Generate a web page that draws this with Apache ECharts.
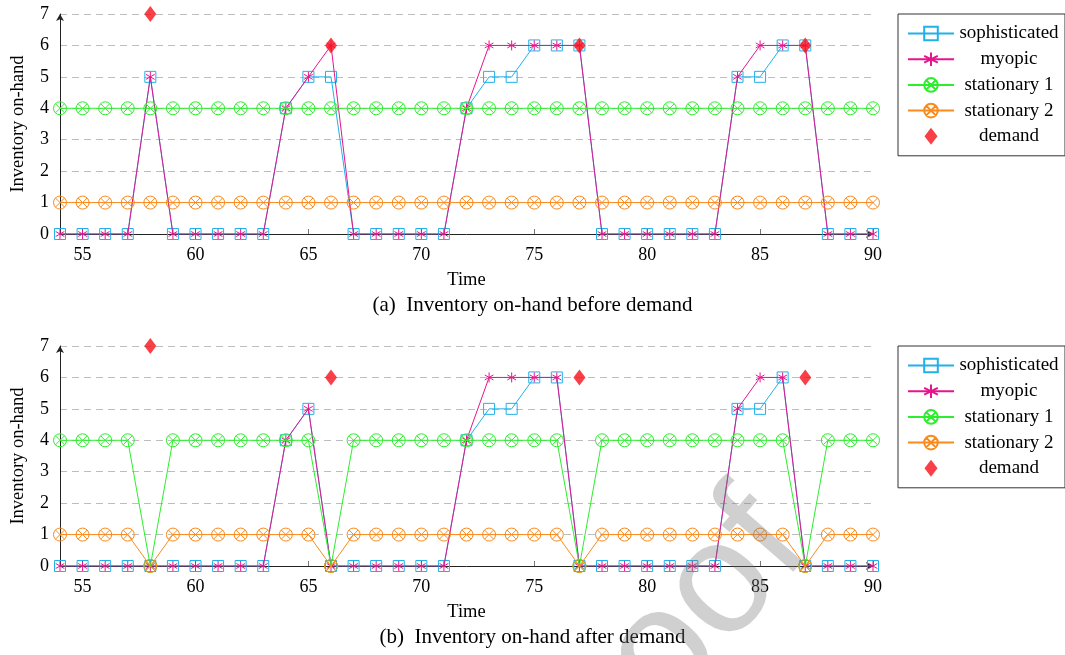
<!DOCTYPE html>
<html><head><meta charset="utf-8">
<script src="https://cdn.jsdelivr.net/npm/echarts@6/dist/echarts.min.js"></script>
<style>html,body{margin:0;padding:0;background:#fff}#c{width:1065px;height:655px}</style>
</head><body><div id="c"></div>
<script>
// ---- data ----
const times = [54,55,56,57,58,59,60,61,62,63,64,65,66,67,68,69,70,71,72,73,74,75,76,77,78,79,80,81,82,83,84,85,86,87,88,89,90];
const xTickValues = [55,60,65,70,75,80,85,90];
const yTickValues = [0,1,2,3,4,5,6,7];
const seriesNames = ['sophisticated','myopic','stationary 1','stationary 2','demand'];

// (a) before demand
const beforeSoph   = [0,0,0,0,5,0,0,0,0,0,4,5,5,0,0,0,0,0,4,5,5,6,6,6,0,0,0,0,0,0,5,5,6,6,0,0,0];
const beforeMyopic = [0,0,0,0,5,0,0,0,0,0,4,5,6,0,0,0,0,0,4,6,6,6,6,6,0,0,0,0,0,0,5,6,6,6,0,0,0];
const beforeStat1  = [4,4,4,4,4,4,4,4,4,4,4,4,4,4,4,4,4,4,4,4,4,4,4,4,4,4,4,4,4,4,4,4,4,4,4,4,4];
const beforeStat2  = [1,1,1,1,1,1,1,1,1,1,1,1,1,1,1,1,1,1,1,1,1,1,1,1,1,1,1,1,1,1,1,1,1,1,1,1,1];
// (b) after demand
const afterSoph    = [0,0,0,0,0,0,0,0,0,0,4,5,0,0,0,0,0,0,4,5,5,6,6,0,0,0,0,0,0,0,5,5,6,0,0,0,0];
const afterMyopic  = [0,0,0,0,0,0,0,0,0,0,4,5,0,0,0,0,0,0,4,6,6,6,6,0,0,0,0,0,0,0,5,6,6,0,0,0,0];
const afterStat1   = [4,4,4,4,0,4,4,4,4,4,4,4,0,4,4,4,4,4,4,4,4,4,4,0,4,4,4,4,4,4,4,4,4,0,4,4,4];
const afterStat2   = [1,1,1,1,0,1,1,1,1,1,1,1,0,1,1,1,1,1,1,1,1,1,1,0,1,1,1,1,1,1,1,1,1,0,1,1,1];
// demand (same in both panels)
const demand       = ['-','-','-','-',7,'-','-','-','-','-','-','-',6,'-','-','-','-','-','-','-','-','-','-',6,'-','-','-','-','-','-','-','-','-',6,'-','-','-'];

const captions = ['(a)  Inventory on-hand before demand', '(b)  Inventory on-hand after demand'];

// ---- styling ----
const SERIF = 'Liberation Serif';
const C = { soph:'#22b0ea', myo:'#e6158c', s1:'#2cee2c', s2:'#fb8a1c', dem:'#f7101a' };
const SYM_AST = 'path://M0,-10L0,10M-8.66,-5L8.66,5M-8.66,5L8.66,-5';
const SYM_OX  = 'path://M-10,0A10,10,0,1,1,10,0A10,10,0,1,1,-10,0ZM-7.07,-7.07L7.07,7.07M-7.07,7.07L7.07,-7.07';
const SYM_DIA = 'path://M0,-8.5L6.5,0L0,8.5L-6.5,0Z';
const CLEAR = 'rgba(0,0,0,0)';

const panels = [
  { top:14,  data:[beforeSoph, beforeMyopic, beforeStat1, beforeStat2, demand] },
  { top:346, data:[afterSoph,  afterMyopic,  afterStat1,  afterStat2,  demand] }
];
const specs = [
  { color:C.soph, symbol:'rect', size:11 },
  { color:C.myo,  symbol:SYM_AST, size:10 },
  { color:C.s1,   symbol:SYM_OX, size:13 },
  { color:C.s2,   symbol:SYM_OX, size:13 }
];

const grids = [], xAxes = [], yAxes = [], series = [], legends = [], graphics = [];
panels.forEach((p, gi) => {
  grids.push({ left:60, width:813, top:p.top, height:220, containLabel:false, outerBoundsMode:'none' });
  xAxes.push({
    gridIndex:gi, type:'category', data:times.map(String), boundaryGap:false,
    name:'Time', nameLocation:'middle', nameGap:37,
    nameTextStyle:{ fontFamily:SERIF, fontSize:18.5, color:'#000' },
    axisLine:{ show:true, onZero:false, symbol:['none','arrow'], symbolSize:[6,7], lineStyle:{ color:'#222', width:1 } },
    axisTick:{ show:true, length:5, inside:true, lineStyle:{ color:'#777' }, interval:(i,v)=>xTickValues.includes(+v) },
    axisLabel:{ fontFamily:SERIF, fontSize:18, color:'#000', margin:12, interval:(i,v)=>xTickValues.includes(+v) },
    splitLine:{ show:false }
  });
  yAxes.push({
    gridIndex:gi, type:'value', min:0, max:7, interval:1,
    name:'Inventory on-hand', nameLocation:'middle', nameGap:32, nameRotate:90,
    nameTextStyle:{ fontFamily:SERIF, fontSize:18.5, color:'#000' },
    axisLine:{ show:true, symbol:['none','arrow'], symbolSize:[6,7], lineStyle:{ color:'#222', width:1 } },
    axisTick:{ show:false },
    axisLabel:{ fontFamily:SERIF, fontSize:18, color:'#000', margin:11, formatter:v=>yTickValues.includes(v)?String(v):'' },
    splitLine:{ show:true, lineStyle:{ color:'#bdbdbd', type:[7,5], width:1 } }
  });
  specs.forEach((s, si) => {
    series.push({
      name:seriesNames[si], type:'line', xAxisIndex:gi, yAxisIndex:gi,
      data:p.data[si], symbol:s.symbol, symbolSize:s.size, symbolKeepAspect:true, showAllSymbol:true,
      lineStyle:{ color:s.color, width:1 }, itemStyle:{ color:CLEAR, borderColor:s.color, borderWidth:1 },
      emphasis:{ disabled:true }, animation:false, z:2+si
    });
  });
  series.push({
    name:seriesNames[4], type:'scatter', xAxisIndex:gi, yAxisIndex:gi,
    data:p.data[4], symbol:'diamond', symbolSize:[12,16],
    itemStyle:{ color:C.dem }, emphasis:{ disabled:true }, animation:false, z:7
  });
  legends.push({
    data:seriesNames.slice(0,4).concat([{ name:seriesNames[4], icon:SYM_DIA }]),
    orient:'vertical', left:898, top:p.top, padding:[10,6,10,9],
    itemWidth:46, itemHeight:17, itemGap:6.7, symbolKeepAspect:true,
    borderColor:'#333', borderWidth:1, backgroundColor:'#fff',
    selectedMode:false,
    formatter:n=>'{t|'+n+'}',
    textStyle:{ fontFamily:SERIF, fontSize:19, color:'#000', rich:{ t:{ width:100, align:'center', fontFamily:SERIF, fontSize:19, lineHeight:19 } } }
  });
  graphics.push({ type:'text', left:'center', top:p.top+281, style:{ text:captions[gi], fontFamily:SERIF, fontSize:21, fill:'#000' } });
});
graphics.push({
  type:'text', x:780, y:520, rotation:0.855, z:100,
  style:{ text:'Journal Pre-proof', fontFamily:'Liberation Sans', fontSize:160, fill:'rgba(120,120,120,0.35)', align:'right', verticalAlign:'middle' },
  silent:true
});

const chart = echarts.init(document.getElementById('c'), null, { renderer:'canvas' });
chart.setOption({
  animation:false, backgroundColor:'#fff',
  grid:grids, xAxis:xAxes, yAxis:yAxes, series:series, legend:legends, graphic:graphics,
  tooltip:{ show:false }
});
</script></body></html>
